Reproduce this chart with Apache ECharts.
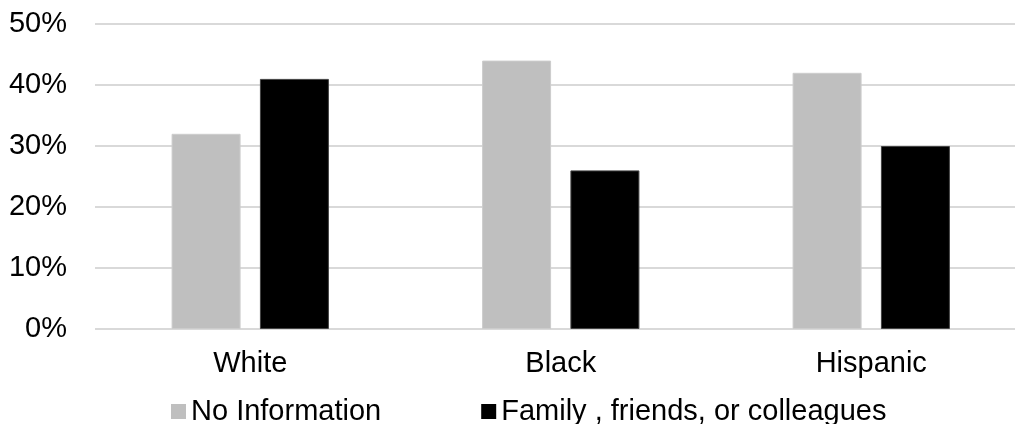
<!DOCTYPE html>
<html>
<head>
<meta charset="utf-8">
<style>
  html, body { margin: 0; padding: 0; background: #fff; }
  #chart { width: 1015px; height: 424px; }
</style>
<script src="https://cdn.jsdelivr.net/npm/echarts@6/dist/echarts.min.js"></script>
</head>
<body>
<div id="chart"></div>
<script>
// Share of respondents by group and source (percent)
const categories = ['White', 'Black', 'Hispanic'];
const seriesNames = ['No Information', 'Family , friends, or colleagues'];
const noInformation = [32, 44, 42];
const familyFriends = [41, 26, 30];
const yTicks = [0, 10, 20, 30, 40, 50];

const font = 'Liberation Sans, Arial, sans-serif';
const chart = echarts.init(document.getElementById('chart'));

chart.setOption({
  animation: false,
  backgroundColor: '#ffffff',
  grid: {
    left: 95, top: 24, width: 931.5, height: 305,
    containLabel: false, outerBoundsMode: 'none'
  },
  legend: {
    data: seriesNames,
    left: 166,
    top: 392,
    icon: 'rect',
    itemWidth: 15,
    itemHeight: 15,
    itemGap: 100,
    itemStyle: { borderWidth: 0 },
    textStyle: { fontFamily: font, fontSize: 29, color: '#000' }
  },
  xAxis: {
    type: 'category',
    data: categories,
    axisLine: { show: false },
    axisTick: { show: false },
    axisLabel: { fontFamily: font, fontSize: 29, color: '#000', margin: 20 }
  },
  yAxis: {
    type: 'value',
    min: yTicks[0],
    max: yTicks[yTicks.length - 1],
    interval: yTicks[1] - yTicks[0],
    axisLine: { show: false },
    axisTick: { show: false },
    splitLine: { lineStyle: { color: '#d9d9d9', width: 2 } },
    axisLabel: {
      fontFamily: font, fontSize: 29, color: '#000', margin: 28,
      formatter: v => v + '%'
    }
  },
  series: [
    {
      name: seriesNames[0],
      type: 'bar',
      data: noInformation,
      barWidth: 69,
      barGap: '28%',
      itemStyle: { color: '#bfbfbf', borderColor: '#cccccc', borderWidth: 1 }
    },
    {
      name: seriesNames[1],
      type: 'bar',
      data: familyFriends,
      barWidth: 69,
      barGap: '28%',
      itemStyle: { color: '#000000', borderColor: '#444444', borderWidth: 1 }
    }
  ]
});
</script>
</body>
</html>
